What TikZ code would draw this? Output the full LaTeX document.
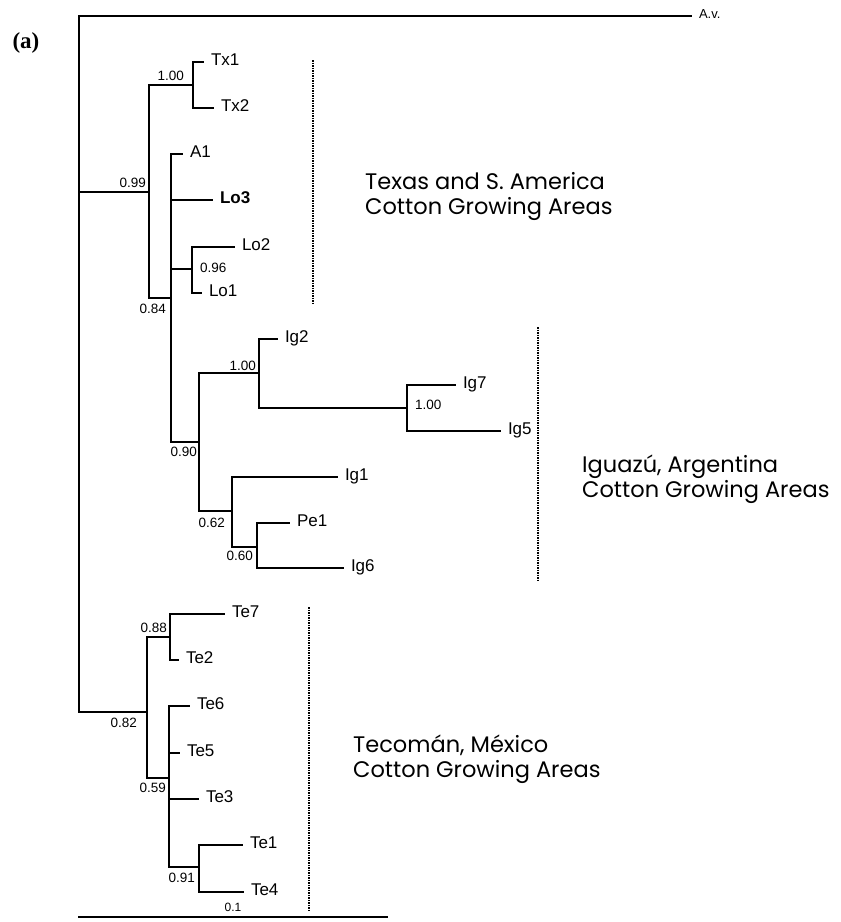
\documentclass[tikz,border=0pt]{standalone}
\usepackage{fontspec}
\setmainfont{Liberation Sans}
\newfontfamily\regionfont{Poppins}
\newfontfamily\panelfont{Liberation Serif}
\usetikzlibrary{positioning}

\begin{document}
\begin{tikzpicture}[x=1pt,y=-1pt,
    branch/.style={line width=2.3pt},
    thinbranch/.style={line width=1.4pt},
    leaf/.style={anchor=west,inner xsep=7pt,inner ysep=0pt,outer sep=0pt,
      text height=12pt,text depth=6pt,font=\fontsize{17}{17}\selectfont},
    supp/.style={inner sep=0pt,outer sep=0pt,font=\fontsize{13.5}{13.5}\selectfont},
    region/.style={anchor=west,align=left,inner sep=0pt,
      font=\regionfont\fontsize{22.5}{25}\selectfont},
    guide/.style={line width=2.2pt,dash pattern=on 1.5pt off 1pt}]
  \useasboundingbox (0,0) rectangle (841,922);

  \node[font=\panelfont\bfseries\fontsize{23}{23}\selectfont,inner sep=0pt] (panel) at (26,43) {(a)};

  % internal nodes
  \coordinate (root) at (79,192);
  \coordinate (n099) at (149,192);
  \coordinate (ntx)  at (193,85);
  \coordinate (n084) at (171,298);
  \coordinate (nlo)  at (192,269);
  \coordinate (n090) at (199,442);
  \coordinate (n100) at (259,373);
  \coordinate (nig)  at (407,408);
  \coordinate (n062) at (232,511);
  \coordinate (n060) at (257,547);
  \coordinate (n082) at (147,712);
  \coordinate (n088) at (170,637);
  \coordinate (n059) at (169,778);
  \coordinate (n091) at (199,867);

  % taxa
  \node[leaf,text height=9pt,text depth=5pt,font=\fontsize{13}{13}\selectfont] (av) at (692,16) {A.v.};
  \node[leaf] (tx1) at (204,62) {Tx1};
  \node[leaf] (tx2) at (214,108) {Tx2};
  \node[leaf] (a1)  at (183,154) {A1};
  \node[leaf,font=\fontsize{17}{17}\selectfont\bfseries] (lo3) at (213,200) {Lo3};
  \node[leaf] (lo2) at (235,247) {Lo2};
  \node[leaf] (lo1) at (202,293) {Lo1};
  \node[leaf] (ig2) at (278,339) {Ig2};
  \node[leaf] (ig7) at (456,385) {Ig7};
  \node[leaf] (ig5) at (501,431) {Ig5};
  \node[leaf] (ig1) at (338,477) {Ig1};
  \node[leaf] (pe1) at (290,523) {Pe1};
  \node[leaf] (ig6) at (344,568) {Ig6};
  \node[leaf] (te7) at (225,614) {Te7};
  \node[leaf] (te2) at (179,660) {Te2};
  \node[leaf] (te6) at (190,706) {Te6};
  \node[leaf] (te5) at (180,753) {Te5};
  \node[leaf] (te3) at (199,799) {Te3};
  \node[leaf] (te1) at (243,845) {Te1};
  \node[leaf] (te4) at (244,892) {Te4};

  \foreach \p/\c in {root/av,root/n099,root/n082,n099/ntx,n099/n084,ntx/tx1,ntx/tx2,
      n084/a1,n084/lo3,n084/nlo,n084/n090,nlo/lo2,nlo/lo1,n090/n100,n090/n062,
      n100/ig2,n100/nig,n062/ig1,n062/n060,n060/pe1,n060/ig6,
      n082/n088,n082/n059,n088/te7,n088/te2,n059/te6,n059/te5,n059/te3,n059/n091,
      n091/te1,n091/te4}
    \draw[branch] (\p) |- (\c);
  \foreach \c in {ig7,ig5}
    \draw[thinbranch] (nig) |- (\c);

  % support values
  \node[supp,above left=4pt and 3pt of n099] (s099) {0.99};
  \node[supp,above left=4pt and 9pt of ntx] (stx) {1.00};
  \node[supp,below left=6pt and 5pt of n084] (s084) {0.84};
  \node[supp,right=8pt of nlo,yshift=1.5pt] (slo) {0.96};
  \node[supp,below left=5pt and 2pt of n090] (s090) {0.90};
  \node[supp,above left=2pt and 3pt of n100] (s100) {1.00};
  \node[supp,right=8pt of nig,yshift=3pt] (sig) {1.00};
  \node[supp,below left=7pt and 7pt of n062] (s062) {0.62};
  \node[supp,below left=4pt and 4pt of n060] (s060) {0.60};
  \node[supp,below left=6pt and 10pt of n082] (s082) {0.82};
  \node[supp,above left=4pt and 3pt of n088] (s088) {0.88};
  \node[supp,below left=5pt and 3pt of n059] (s059) {0.59};
  \node[supp,below left=6pt and 4pt of n091] (s091) {0.91};

  % scale bar
  \coordinate (bar0) at (78,917);
  \coordinate (bar1) at (388,917);
  \draw[branch] (bar0) -- node[supp,above=5pt,font=\fontsize{12}{12}\selectfont] (sbar) {0.1} (bar1);

  % groups
  \draw[guide] (313,60) -- (313,304);
  \draw[guide] (538,327) -- (538,580);
  \draw[guide] (309,607) -- (309,912);
  \node[region] (texas) at (365,196) {Texas and S. America\\Cotton Growing Areas};
  \node[region] (iguazu) at (582,479) {Iguazú, Argentina\\Cotton Growing Areas};
  \node[region] (tecoman) at (353,759) {Tecomán, México\\Cotton Growing Areas};
\end{tikzpicture}
\end{document}
